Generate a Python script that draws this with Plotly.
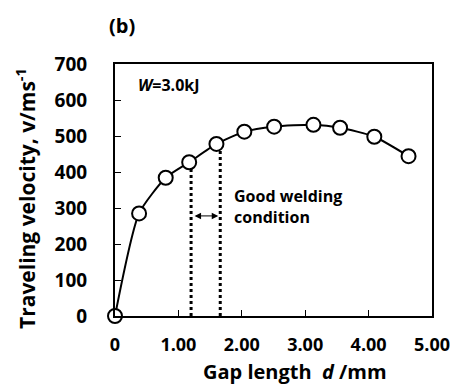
import plotly.graph_objects as go

gap_mm = [0, 0.38, 0.80, 1.17, 1.60, 2.04, 2.51, 3.13, 3.55, 4.09, 4.63]
velocity = [0, 285, 384, 427, 478, 512, 526, 531, 523, 498, 444]
good_lo, good_hi = 1.20, 1.66
good_lo_v, good_hi_v = 427, 478
x_ticks = [0, 1, 2, 3, 4, 5]
x_tick_text = ["0", "1.00", "2.00", "3.00", "4.00", "5.00"]
y_ticks = [0, 100, 200, 300, 400, 500, 600, 700]

FONT = "Open Sans"
OFF = 8  # page body margin
W, H = 458 - OFF, 385 - OFF
L, R, T, B = 115 - OFF, 26, 64 - OFF, 69
PW, PH = W - L - R, H - T - B


def px(xp):
    return (xp - OFF - L) / PW


def py(yp):
    return 1 - (yp - OFF - T) / PH


fig = go.Figure()
fig.add_trace(go.Scatter(x=[good_lo, good_lo], y=[0, good_lo_v], mode="lines",
                         line=dict(color="black", width=3, dash="dot"), showlegend=False))
fig.add_trace(go.Scatter(x=[good_hi, good_hi], y=[0, good_hi_v], mode="lines",
                         line=dict(color="black", width=3, dash="dot"), showlegend=False))
fig.add_trace(go.Scatter(x=gap_mm, y=velocity, mode="lines+markers",
                         line=dict(color="black", width=2, shape="spline", smoothing=0.6),
                         marker=dict(size=14, color="white", line=dict(color="black", width=2)),
                         showlegend=False, cliponaxis=False))

# double arrow
fig.add_annotation(x=good_hi, y=278, ax=good_lo, ay=278, xref="x", yref="y", axref="x", ayref="y",
                   text="", showarrow=True, arrowhead=2, arrowside="end+start", arrowsize=1.3,
                   arrowwidth=1, arrowcolor="black", standoff=2, startstandoff=2)
fig.add_annotation(x=1.84, y=305, xref="x", yref="y", xanchor="left", yanchor="middle",
                   text="<b>Good welding<br>condition</b>", showarrow=False, align="left",
                   font=dict(family=FONT, size=16, color="black"))
fig.add_annotation(x=0.33, y=643, xref="x", yref="y", xanchor="left", yanchor="middle",
                   text="<b><i>W</i>=3.0kJ</b>", showarrow=False,
                   font=dict(family=FONT, size=16, color="black"))
fig.add_annotation(x=px(122), y=py(25), xref="paper", yref="paper",
                   text="<b>(b)</b>", showarrow=False, xanchor="center", yanchor="middle",
                   font=dict(family=FONT, size=20, color="black"))
# axis titles
fig.add_annotation(x=px(295), y=py(371.5), xref="paper", yref="paper",
                   text="<b>Gap length&nbsp; <i>d</i> /mm</b>", showarrow=False,
                   xanchor="center", yanchor="middle",
                   font=dict(family=FONT, size=20, color="black"))
fig.add_annotation(x=px(25), y=py(199), xref="paper", yref="paper", textangle=-90,
                   text="<b>Traveling velocity, v/ms<sup>-1</sup></b>", showarrow=False,
                   xanchor="center", yanchor="middle",
                   font=dict(family=FONT, size=21, color="black"))

fig.update_layout(
    width=W, height=H,
    margin=dict(l=L, r=R, t=T, b=B, autoexpand=False),
    plot_bgcolor="white", paper_bgcolor="white",
    font=dict(family=FONT, size=19, color="black"),
)
fig.update_xaxes(range=[0, 5], tickvals=x_ticks, ticktext=["<b>%s</b>" % t for t in x_tick_text],
                 showline=True, linecolor="black", linewidth=2, mirror=True, tickfont=dict(size=18),
                 ticks="inside", ticklen=6, tickwidth=1, tickcolor="black", showgrid=False, zeroline=False,
                 ticklabelstandoff=11)
fig.update_yaxes(range=[0, 700], tickvals=y_ticks, ticktext=["<b>%d</b>" % t for t in y_ticks],
                 showline=True, linecolor="black", linewidth=2, mirror=True,
                 ticks="inside", ticklen=6, tickwidth=1, tickcolor="black", showgrid=False, zeroline=False,
                 ticklabelstandoff=22)

fig.write_html("out.html")
